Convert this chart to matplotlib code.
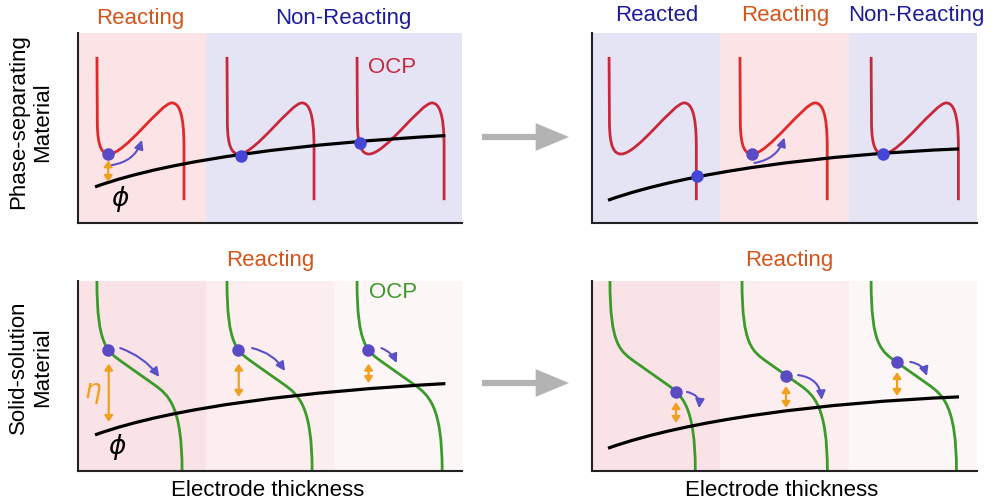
import matplotlib.pyplot as plt
from matplotlib.path import Path
from matplotlib.patches import PathPatch, FancyArrowPatch

plt.rcParams['font.family'] = ['Liberation Sans', 'DejaVu Sans']
plt.rcParams['mathtext.fontset'] = 'dejavusans'

pink = '#fbe3e6'
lav = '#e5e4f5'
pinks = ['#fae3e6', '#fcedee', '#fdf6f6']
orange_txt = '#d4551a'
blue_txt = '#1c1c9c'
red_hot = '#e02a2a'
red_cold = '#c8283c'
green = '#3a9a2a'
dot_hot = '#5a4bc4'
dot_cold = '#4646d6'
arrow_purple = '#5a50c8'
eta_orange = '#f0a020'

# phase-separating OCP (bezier vertices), x measured from where the curve leaves the top
ps_x = [0.0, 0.003, 0.006, 0.04, 0.094, 0.22, 0.50, 0.585, 0.64, 0.68, 0.68, 0.68]
ps_y = [0.874, 0.52, 0.40, 0.363, 0.363, 0.363, 0.632, 0.632, 0.632, 0.58, 0.40, 0.12]
ps_codes = [Path.MOVETO, Path.LINETO] + [Path.CURVE4] * 9 + [Path.LINETO]

# solid-solution OCP (bezier vertices)
ss_x = [0.0, 0.0, 0.08, 0.2, 0.45, 0.56, 0.665, 0.665]
ss_y = [1.0, 0.66, 0.63, 0.572, 0.453, 0.40, 0.34, 0.0]
ss_codes = [Path.MOVETO] + [Path.CURVE4] * 3 + [Path.LINETO] + [Path.CURVE4] * 3

# electrolyte potential phi (cubic bezier)
phi_left_x = [0.133, 0.75, 1.8, 2.87]
phi_left_y = [0.19, 0.34, 0.42, 0.46]
phi_right_x = [0.125, 0.75, 1.8, 2.86]
phi_right_y = [0.12, 0.27, 0.36, 0.39]
phi_codes = [Path.MOVETO] + [Path.CURVE4] * 3

# where each OCP curve starts in the panel
tl_ocp_x0 = [0.148, 1.164, 2.18]
tr_ocp_x0 = [0.133, 1.153, 2.175]
bl_ocp_x0 = [0.148, 1.164, 2.18]
br_ocp_x0 = [0.14, 1.169, 2.175]
tl_hot = [True, False, False]
tr_hot = [False, True, False]

# particle states (dots)
tl_dot_x = [0.236, 1.27, 2.2]
tl_dot_y = [0.363, 0.353, 0.42]
tr_dot_x = [0.815, 1.247, 2.268]
tr_dot_y = [0.245, 0.363, 0.363]
bl_dot_x = [0.234, 1.25, 2.266]
bl_dot_y = [0.637, 0.637, 0.637]
br_dot_x = [0.655, 1.512, 2.377]
br_dot_y = [0.416, 0.5, 0.574]

# overpotential arrows: x, y top, y bottom
tl_eta = [(0.236, 0.33, 0.216)]
bl_eta = [(0.24, 0.565, 0.258), (1.256, 0.565, 0.39), (2.27, 0.565, 0.463)]
br_eta = [(0.655, 0.363, 0.253), (1.512, 0.447, 0.332), (2.377, 0.521, 0.395)]

# reaction direction arrows: start, end, curvature
tl_flow = [((0.265, 0.305), (0.5, 0.437), 0.3)]
tr_flow = [((1.265, 0.316), (1.5, 0.45), 0.3)]
bl_flow = [((0.33, 0.647), (0.635, 0.495), -0.15),
           ((1.36, 0.647), (1.617, 0.526), -0.2),
           ((2.37, 0.647), (2.49, 0.568), -0.2)]
br_flow = [((0.74, 0.416), (0.834, 0.33), -0.45),
           ((1.606, 0.505), (1.79, 0.374), -0.4),
           ((2.48, 0.574), (2.61, 0.5), -0.3)]


def bezier(ax, xs, ys, codes, dx, color, lw, z=2):
    verts = [(x + dx, y) for x, y in zip(xs, ys)]
    ax.add_patch(PathPatch(Path(verts, codes), fc='none', ec=color, lw=lw,
                           capstyle='butt', zorder=z))


def setup(ax, shades):
    for i, c in enumerate(shades):
        ax.axvspan(i, i + 1, color=c, lw=0, zorder=0)
    ax.set_xlim(0, 3)
    ax.set_ylim(0, 1)
    ax.set_xticks([])
    ax.set_yticks([])
    for s in ['top', 'right']:
        ax.spines[s].set_visible(False)
    for s in ['left', 'bottom']:
        ax.spines[s].set_color('#222222')
        ax.spines[s].set_linewidth(1.5)


def draw_extras(ax, dots_x, dots_y, dot_cols, etas, flows):
    for x, y, c in zip(dots_x, dots_y, dot_cols):
        ax.plot(x, y, 'o', ms=9, color=c, mec='none', zorder=5)
    for x, y0, y1 in etas:
        ax.add_patch(FancyArrowPatch((x, y0), (x, y1),
                                     arrowstyle='<|-|>,head_length=0.3,head_width=0.2',
                                     mutation_scale=12, lw=1.6, color=eta_orange,
                                     shrinkA=0, shrinkB=0, zorder=4))
    for p0, p1, rad in flows:
        ax.add_patch(FancyArrowPatch(p0, p1, connectionstyle='arc3,rad=%s' % rad,
                                     arrowstyle='-|>,head_length=0.4,head_width=0.2',
                                     mutation_scale=13, lw=1.5, color=arrow_purple,
                                     shrinkA=0, shrinkB=0, zorder=4))


fig = plt.figure(figsize=(9.97, 5.03), dpi=100)
ax_tl = fig.add_axes([78 / 997, 1 - 223 / 503, 384 / 997, 190 / 503])
ax_tr = fig.add_axes([592 / 997, 1 - 223 / 503, 385 / 997, 190 / 503])
ax_bl = fig.add_axes([78 / 997, 1 - 471 / 503, 384 / 997, 190 / 503])
ax_br = fig.add_axes([592 / 997, 1 - 471 / 503, 385 / 997, 190 / 503])

# top left: phase separating, first section reacting
setup(ax_tl, [pink, lav, lav])
for x0, hot in zip(tl_ocp_x0, tl_hot):
    bezier(ax_tl, ps_x, ps_y, ps_codes, x0, red_hot if hot else red_cold, 2.0)
bezier(ax_tl, phi_left_x, phi_left_y, phi_codes, 0, 'black', 2.3, z=3)
draw_extras(ax_tl, tl_dot_x, tl_dot_y, [dot_hot, dot_cold, dot_cold], tl_eta, tl_flow)
ax_tl.text(0.484, 1.075, 'Reacting', color=orange_txt, fontsize=16, ha='center', va='center')
ax_tl.text(2.07, 1.075, 'Non-Reacting', color=blue_txt, fontsize=16, ha='center', va='center')
ax_tl.text(2.45, 0.82, 'OCP', color=red_cold, fontsize=16, ha='center', va='center')
ax_tl.text(0.33, 0.126, r'$\phi$', color='black', fontsize=19, ha='center', va='center')

# top right
setup(ax_tr, [lav, pink, lav])
for x0, hot in zip(tr_ocp_x0, tr_hot):
    bezier(ax_tr, ps_x, ps_y, ps_codes, x0, red_hot if hot else red_cold, 2.0)
bezier(ax_tr, phi_right_x, phi_right_y, phi_codes, 0, 'black', 2.3, z=3)
draw_extras(ax_tr, tr_dot_x, tr_dot_y, [dot_cold, dot_hot, dot_cold], [], tr_flow)
ax_tr.text(0.506, 1.09, 'Reacted', color=blue_txt, fontsize=16, ha='center', va='center')
ax_tr.text(1.504, 1.09, 'Reacting', color=orange_txt, fontsize=16, ha='center', va='center')
ax_tr.text(2.53, 1.09, 'Non-Reacting', color=blue_txt, fontsize=16, ha='center', va='center')

# bottom left: solid solution
setup(ax_bl, pinks)
for x0 in bl_ocp_x0:
    bezier(ax_bl, ss_x, ss_y, ss_codes, x0, green, 2.0)
bezier(ax_bl, phi_left_x, phi_left_y, phi_codes, 0, 'black', 2.3, z=3)
draw_extras(ax_bl, bl_dot_x, bl_dot_y, [dot_hot] * 3, bl_eta, bl_flow)
ax_bl.text(1.5, 1.11, 'Reacting', color=orange_txt, fontsize=16, ha='center', va='center')
ax_bl.text(2.46, 0.937, 'OCP', color=green, fontsize=16, ha='center', va='center')
ax_bl.text(0.305, 0.126, r'$\phi$', color='black', fontsize=19, ha='center', va='center')
ax_bl.text(0.117, 0.41, r'$\eta$', color=eta_orange, fontsize=19, ha='center', va='center')
ax_bl.text(1.48, -0.1, 'Electrode thickness', fontsize=16, ha='center', va='center')

# bottom right
setup(ax_br, pinks)
for x0 in br_ocp_x0:
    bezier(ax_br, ss_x, ss_y, ss_codes, x0, green, 2.0)
bezier(ax_br, phi_right_x, phi_right_y, phi_codes, 0, 'black', 2.3, z=3)
draw_extras(ax_br, br_dot_x, br_dot_y, [dot_hot] * 3, br_eta, br_flow)
ax_br.text(1.54, 1.11, 'Reacting', color=orange_txt, fontsize=16, ha='center', va='center')
ax_br.text(1.48, -0.1, 'Electrode thickness', fontsize=16, ha='center', va='center')

fig.text(31 / 997, 1 - 122 / 503, 'Phase-separating\nMaterial', rotation=90, fontsize=16,
         ha='center', va='center', ma='center', linespacing=1.2)
fig.text(31 / 997, 1 - 367 / 503, 'Solid-solution\nMaterial', rotation=90, fontsize=16,
         ha='center', va='center', ma='center', linespacing=1.2)

# grey arrows between the before / after panels
for yp in [137, 383]:
    fig.patches.append(FancyArrowPatch((482 / 997, 1 - yp / 503), (569 / 997, 1 - yp / 503),
                                       transform=fig.transFigure,
                                       arrowstyle='simple,head_length=24,head_width=20,tail_width=4.5',
                                       mutation_scale=1, color='#b3b3b3', lw=0,
                                       shrinkA=0, shrinkB=0))

fig.savefig('out.png', dpi=100)
